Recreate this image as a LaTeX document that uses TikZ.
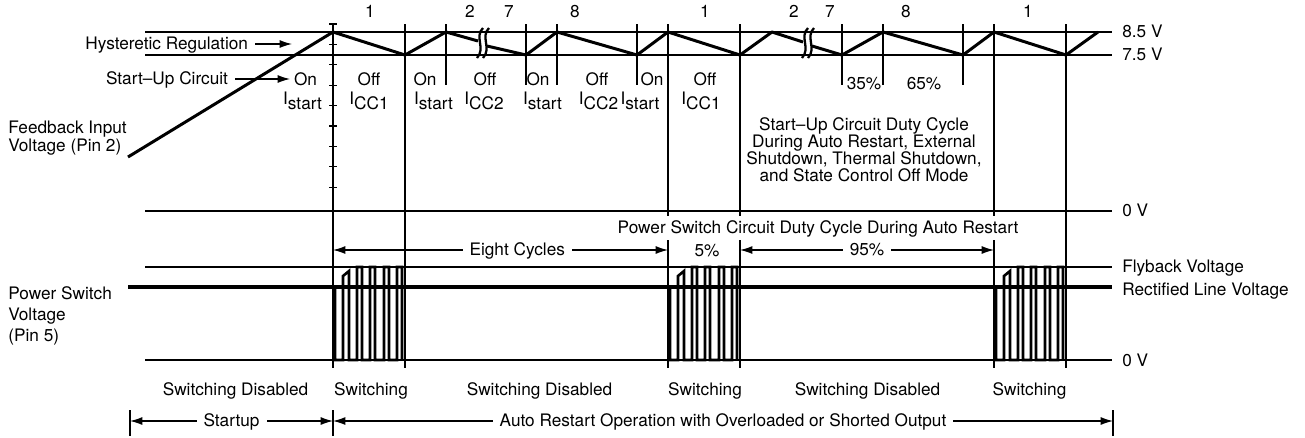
\documentclass[tikz,border=0pt]{standalone}
\usepackage{fontspec}
\setmainfont{TeX Gyre Heros}
\usetikzlibrary{arrows.meta}
\newcommand{\lowr}[1]{\raisebox{-0.28em}{#1}}

\begin{document}
\begin{tikzpicture}[x=0.02cm, y=-0.02cm,
  gridline/.style={line width=0.65pt},
  wave/.style={line width=1.7pt, line join=round},
  pulse/.style={line width=1.5pt, line join=miter},
  rail/.style={line width=1.8pt},
  txt/.style={font=\fontsize{9.8}{10}\selectfont, inner sep=0pt, text height=1.5ex, text depth=.25ex},
  multi/.style={font=\fontsize{9.8}{#1}\selectfont, inner sep=0pt},
  gap/.style={fill=white, inner xsep=4pt, inner ysep=1pt},
  arr/.style={-{Latex[length=7pt,width=4.5pt]}, line width=0.65pt},
  dim/.style={{Latex[length=7pt,width=4.5pt]}-{Latex[length=7pt,width=4.5pt]}, line width=0.65pt}]
\useasboundingbox (0,0) rectangle (1305,437);

\draw [gridline] (145,32) -- (1112,32);
\draw [gridline] (145,55) -- (1112,55);
\draw [gridline] (145,211) -- (1112,211);
\draw [gridline] (145,267) -- (1112,267);
\draw [rail] (128,287) -- (1112,287);
\draw [gridline] (145,360) -- (1112,360);

\foreach \x in {333,405,668,740,994,1066}
  \draw [gridline] (\x,24) -- (\x,368);
\foreach \x in {446,526,557,637,842,883,963}
  \draw [gridline] (\x,24) -- (\x,85);
\foreach \k in {0,...,8}
  \draw [gridline] (329,24+20.4*\k) -- (337,24+20.4*\k);

\draw [wave] (128,157) -- (333,32) -- (405,55) -- (446,32) -- (478,41);
\draw [wave] (487,46) -- (526,55) -- (557,32) -- (637,55) -- (668,32) -- (740,55) -- (772,32) -- (803,42);
\draw [wave] (812,46) -- (842,55) -- (883,32) -- (963,55) -- (994,32) -- (1066,55) -- (1098,32);
\foreach \x in {480,486,805,811}
  \draw [line width=1.3pt] (\x+3,28) .. controls (\x-6,37) and (\x+6,48) .. (\x-3,58);

\foreach \x in {333,668,994}
  \draw [pulse] (\x+2,287) -- (\x+2,360) -- (\x+10,360) -- (\x+10,276) -- (\x+16,271) -- (\x+16,360)
    -- (\x+24,360) -- (\x+24,267) -- (\x+29,267) -- (\x+29,360)
    -- (\x+37,360) -- (\x+37,267) -- (\x+42,267) -- (\x+42,360)
    -- (\x+51,360) -- (\x+51,267) -- (\x+56,267) -- (\x+56,360)
    -- (\x+64,360) -- (\x+64,267) -- (\x+69,267) -- (\x+69,360);

\foreach \x/\n in {370/1,470/2,509/7,575/8,705/1,794/2,830/7,906/8,1028/1}
  \node [txt] (cyc\x) at (\x,12) {\n};

\node [txt, anchor=west] (lv85) at (1122,32) {8.5 V};
\node [txt, anchor=west] (lv75) at (1122,55) {7.5 V};
\node [txt, anchor=west] (lv0top) at (1122,211) {0 V};
\node [txt, anchor=west] (lvfly) at (1122,267) {Flyback Voltage};
\node [txt, anchor=west] (lvrect) at (1122,290) {Rectified Line Voltage};
\node [txt, anchor=west] (lv0bot) at (1122,361) {0 V};

\node [txt, anchor=east, outer sep=4pt] (hyst) at (255,44) {Hysteretic Regulation};
\coordinate (hystTip) at (292,44);
\draw [arr] (hyst) -- (hystTip);
\node [txt, anchor=east, outer sep=4pt] (suc) at (235,79) {Start--Up Circuit};
\coordinate (sucTip) at (290,79);
\draw [arr] (suc) -- (sucTip);
\node [multi=10.4pt, anchor=west, align=left] (fbin) at (8,138) {Feedback Input\\Voltage (Pin 2)};
\node [multi=11.8pt, anchor=west, align=left] (pswv) at (8,316) {Power Switch\\Voltage\\(Pin 5)};

\node [txt] (onA) at (305.5,80) {On};
\node [txt] (isA) at (302.5,99) {I\lowr{start}};
\node [txt] (offB) at (369,80) {Off};
\node [txt] (icB) at (369,99) {I\lowr{CC1}};
\node [txt] (onC) at (425,80) {On};
\node [txt] (isC) at (433.5,99) {I\lowr{start}};
\node [txt] (offD) at (485,80) {Off};
\node [txt] (icD) at (484,99) {I\lowr{CC2}};
\node [txt] (onE) at (538,80) {On};
\node [txt] (isE) at (542.5,99) {I\lowr{start}};
\node [txt] (offF) at (597,80) {Off};
\node [txt] (icF) at (598.5,99) {I\lowr{CC2}};
\node [txt] (onG) at (652,80) {On};
\node [txt] (isG) at (640,99) {I\lowr{start}};
\node [txt] (offH) at (705,80) {Off};
\node [txt] (icH) at (701,99) {I\lowr{CC1}};
\node [txt] (pc35) at (864,84) {35\%};
\node [txt] (pc65) at (924,84) {65\%};

\node [multi=9.6pt, align=center] (dutysu) at (864,150)
  {Start--Up Circuit Duty Cycle\\During Auto Restart, External\\Shutdown, Thermal Shutdown,\\and State Control Off Mode};
\node [txt, fill=white, inner xsep=2pt, inner ysep=2pt] (dutyps) at (818,228)
  {Power Switch Circuit Duty Cycle During Auto Restart};

\coordinate (ecL) at (333,250);
\coordinate (ecR) at (668,250);
\draw [dim] (ecL) -- (ecR) node [txt, gap, pos=0.55] (eight) {Eight Cycles};
\node [txt] (pc5) at (707,251) {5\%};
\coordinate (nfL) at (740,250);
\coordinate (nfR) at (994,250);
\draw [dim] (nfL) -- (nfR) node [txt, gap, midway] (pc95) {95\%};

\foreach \x/\t in {235.5/Switching Disabled,371/Switching,539.5/Switching Disabled,705/Switching,867.5/Switching Disabled,1029.5/Switching}
  \node [txt] (sw\x) at (\x,390) {\t};

\foreach \x in {130,333,1113}
  \draw [gridline] (\x,410) -- (\x,436);
\coordinate (phL) at (130,421);
\coordinate (phM) at (333,421);
\coordinate (phR) at (1113,421);
\draw [dim] (phL) -- (phM) node [txt, gap, midway] (startup) {Startup};
\draw [dim] (phM) -- (phR) node [txt, gap, midway] (autorst) {Auto Restart Operation with Overloaded or Shorted Output};
\end{tikzpicture}
\end{document}
